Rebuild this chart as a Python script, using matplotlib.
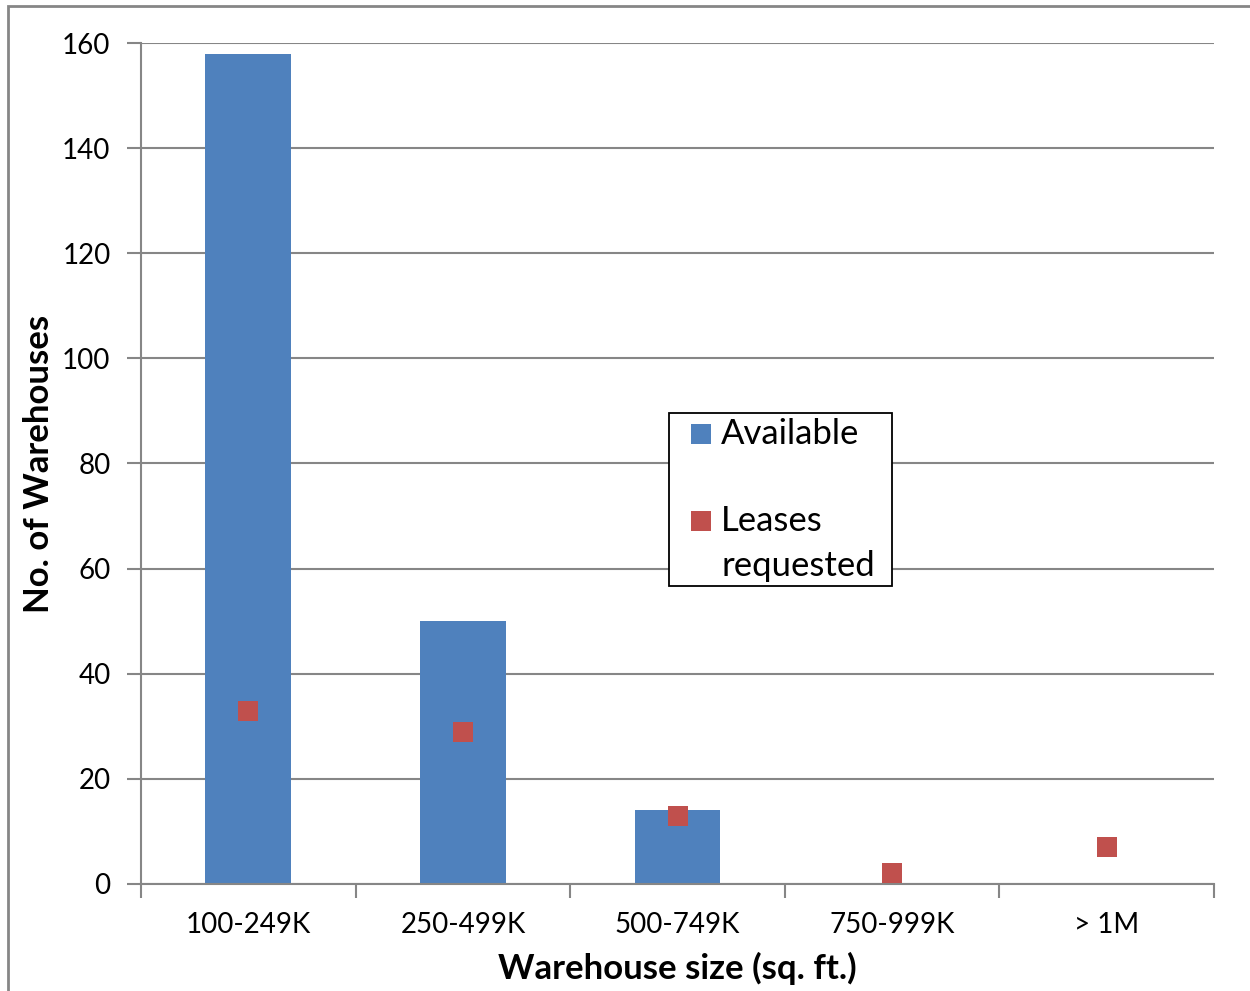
import matplotlib
matplotlib.use('Agg')
import matplotlib.pyplot as plt
from matplotlib.patches import Rectangle

plt.rcParams['font.family'] = ['Lato', 'DejaVu Sans']

categories = ['100-249K', '250-499K', '500-749K', '750-999K', '> 1M']
available = [158, 50, 14, 0, 0]
leases_requested = [33, 29, 13, 2, 7]

BLUE = '#4F81BD'
RED = '#C0504D'
GRID = '#868686'

W, H = 1250, 991
fig = plt.figure(figsize=(W / 100, H / 100), dpi=100)
ax = fig.add_axes([0.1128, 0.1080, 0.8584, 0.8486])

x = range(len(categories))
ax.bar(x, available, width=0.4, color=BLUE, zorder=2)
ax.plot(x, leases_requested, 's', color=RED, markersize=14, zorder=3,
        markeredgewidth=0)

ax.set_xlim(-0.5, len(categories) - 0.5)
ax.set_ylim(0, 160)
ax.set_yticks(range(0, 161, 20))
ax.set_xticks(list(x))
ax.set_xticklabels(categories)
ax.set_xticks([i - 0.5 for i in range(len(categories) + 1)], minor=True)

ax.yaxis.grid(True, color=GRID, linewidth=1.5, zorder=0)
ax.set_axisbelow(True)
for side in ('top', 'right'):
    ax.spines[side].set_visible(False)
for side in ('left', 'bottom'):
    ax.spines[side].set_color(GRID)
    ax.spines[side].set_linewidth(1.5)

ax.tick_params(axis='y', which='major', length=10, width=1.5, color=GRID,
               labelsize=20, pad=12)
ax.tick_params(axis='x', which='major', length=0, labelsize=20, pad=20)
ax.tick_params(axis='x', which='minor', length=10, width=1.5, color=GRID)

ax.set_xlabel('Warehouse size (sq. ft.)', fontsize=25, fontweight='bold',
              labelpad=10)
ax.set_ylabel('No. of Warehouses', fontsize=25, fontweight='bold',
              labelpad=5)


def px(xp, yp):
    return xp / W, 1 - yp / H


# legend box, drawn by hand so the marker sits on the first label line
lx, ly = px(669, 586)
fig.patches.append(Rectangle((lx, ly), 223 / W, 173 / H,
                             transform=fig.transFigure, facecolor='white',
                             edgecolor='black', linewidth=1.3, zorder=5))
entries = [(BLUE, 'Available', 434), (RED, 'Leases', 521)]
for color, label, yc in entries:
    sx, sy = px(691, yc + 10)
    fig.patches.append(Rectangle((sx, sy), 20 / W, 20 / H,
                                 transform=fig.transFigure, facecolor=color,
                                 edgecolor='none', zorder=6))
    tx, ty = px(721, yc)
    fig.text(tx, ty, label, fontsize=25, va='center', ha='left', zorder=6)
tx, ty = px(721, 566)
fig.text(tx, ty, 'requested', fontsize=25, va='center', ha='left', zorder=6)

# chart area border
fig.patches.append(Rectangle((8 / W, -0.1), 1.2, 1 - 6 / H + 0.1,
                             transform=fig.transFigure, fill=False,
                             edgecolor=GRID, linewidth=2))

fig.savefig('out.png', dpi=100, facecolor='white')
